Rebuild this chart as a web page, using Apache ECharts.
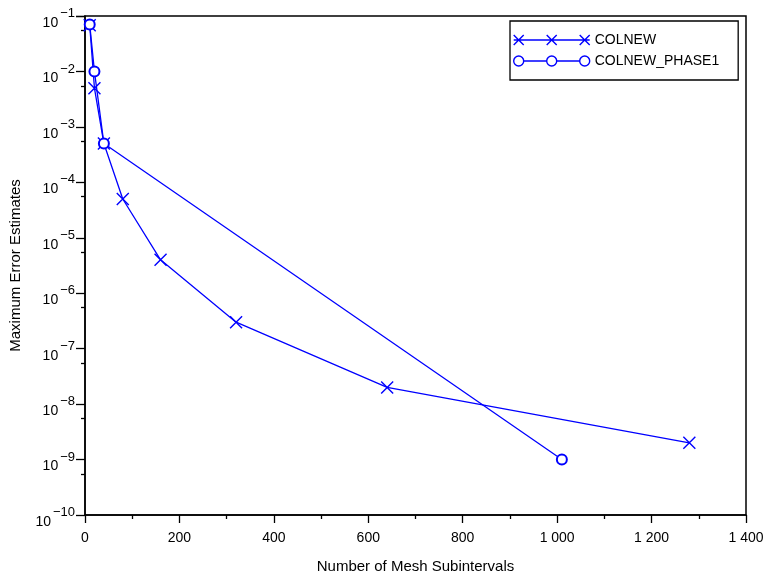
<!doctype html>
<html>
<head>
<meta charset="utf-8">
<title>COLNEW error estimates</title>
<script src="https://cdn.jsdelivr.net/npm/echarts@6/dist/echarts.min.js"></script>
</head>
<body style="margin:0;background:#fff">
<div id="chart" style="width:763px;height:578px;"></div>
<script>
// mesh sizes and max error estimates
var colnewX = [10, 20, 40, 80, 160, 320, 640, 1280];
var colnewY = [6.8e-2, 5e-3, 5e-4, 5e-5, 4e-6, 3e-7, 2e-8, 2e-9];
var phase1X = [10, 20, 40, 1010];
var phase1Y = [7e-2, 1e-2, 5e-4, 1e-9];
var seriesNames = ['COLNEW', 'COLNEW_PHASE1'];

var blue = '#0000ff';
var font = 'Liberation Sans, Arial, Helvetica, sans-serif';
var crossPath = 'path://M0,0L10,10M10,0L0,10';

// legend icons: line with three markers, like the original plot's legend
var crossIcon = 'path://M0,5L76,5M0,0L10,10M10,0L0,10M33,0L43,10M43,0L33,10M66,0L76,10M76,0L66,10';
var circleIcon = 'path://M0,5A5,5 0 1 0 10,5A5,5 0 1 0 0,5ZM10,5L33,5' +
	'M33,5A5,5 0 1 0 43,5A5,5 0 1 0 33,5ZM43,5L66,5' +
	'M66,5A5,5 0 1 0 76,5A5,5 0 1 0 66,5Z';

function pairs(xs, ys) {
	return xs.map(function (x, i) { return [x, ys[i]]; });
}

var myChart = echarts.init(document.getElementById('chart'));
var option = {
	animation: false,
	textStyle: { fontFamily: font },
	grid: {
		left: 85, right: 17, top: 16, bottom: 63,
		outerBoundsMode: 'none',
		show: true, borderColor: '#000', borderWidth: 1.5
	},
	legend: {
		orient: 'vertical',
		left: 510, top: 21,
		backgroundColor: '#fff',
		borderColor: '#000', borderWidth: 1.3,
		padding: [12, 19, 12, 3],
		itemWidth: 76, itemHeight: 10, itemGap: 7,
		textStyle: { fontSize: 14, color: '#000', fontFamily: font },
		data: [
			{ name: seriesNames[0], icon: crossIcon, itemStyle: { color: blue, borderColor: blue, borderWidth: 1.4 } },
			{ name: seriesNames[1], icon: circleIcon, itemStyle: { color: '#fff', borderColor: blue, borderWidth: 1.4 } }
		]
	},
	xAxis: {
		type: 'value',
		min: 0, max: 1400, interval: 200,
		name: 'Number of Mesh Subintervals',
		nameLocation: 'middle', nameGap: 44,
		nameTextStyle: { fontSize: 15, color: '#000', fontFamily: font },
		axisLine: { lineStyle: { color: '#000', width: 1.5 } },
		axisTick: { length: 8, lineStyle: { color: '#000', width: 1.3 } },
		minorTick: { show: true, splitNumber: 2, length: 4, lineStyle: { color: '#000', width: 1.3 } },
		splitLine: { show: false },
		axisLabel: {
			fontSize: 14, color: '#000', margin: 16,
			formatter: function (v) {
				return v >= 1000 ? Math.floor(v / 1000) + ' ' + String(v % 1000).padStart(3, '0') : String(v);
			}
		}
	},
	yAxis: {
		type: 'log',
		logBase: 10,
		min: 1e-10, max: 1e-1,
		interval: 1,
		name: 'Maximum Error Estimates',
		nameLocation: 'middle', nameGap: 62,
		nameTextStyle: { fontSize: 15, color: '#000', fontFamily: font },
		axisLine: { lineStyle: { color: '#000', width: 1.5 } },
		axisTick: { length: 9, lineStyle: { color: '#000', width: 1.3 } },
		minorTick: { show: true, splitNumber: 2, length: 4, lineStyle: { color: '#000', width: 1.3 } },
		splitLine: { show: false },
		axisLabel: {
			margin: 10,
			padding: [5, 0, 0, 0],
			formatter: function (v) {
				var e = Math.round(Math.log10(v));
				return '{b|10}{s|\u2212' + (-e) + '}';
			},
			rich: {
				b: { fontSize: 14, color: '#000', fontFamily: font, lineHeight: 23, verticalAlign: 'bottom' },
				s: { fontSize: 13, color: '#000', fontFamily: font, lineHeight: 23, verticalAlign: 'top', padding: [0, 0, 0, 2] }
			}
		}
	},
	series: [
		{
			name: seriesNames[0],
			type: 'line',
			data: pairs(colnewX, colnewY),
			symbol: crossPath,
			symbolSize: 12,
			lineStyle: { color: blue, width: 1.3 },
			itemStyle: { color: blue, borderColor: blue, borderWidth: 1.4 }
		},
		{
			name: seriesNames[1],
			type: 'line',
			data: pairs(phase1X, phase1Y),
			symbol: 'emptyCircle',
			symbolSize: 10,
			lineStyle: { color: blue, width: 1.3 },
			itemStyle: { color: blue, borderColor: blue, borderWidth: 1.4 }
		}
	]
};
myChart.setOption(option);
</script>
</body>
</html>
